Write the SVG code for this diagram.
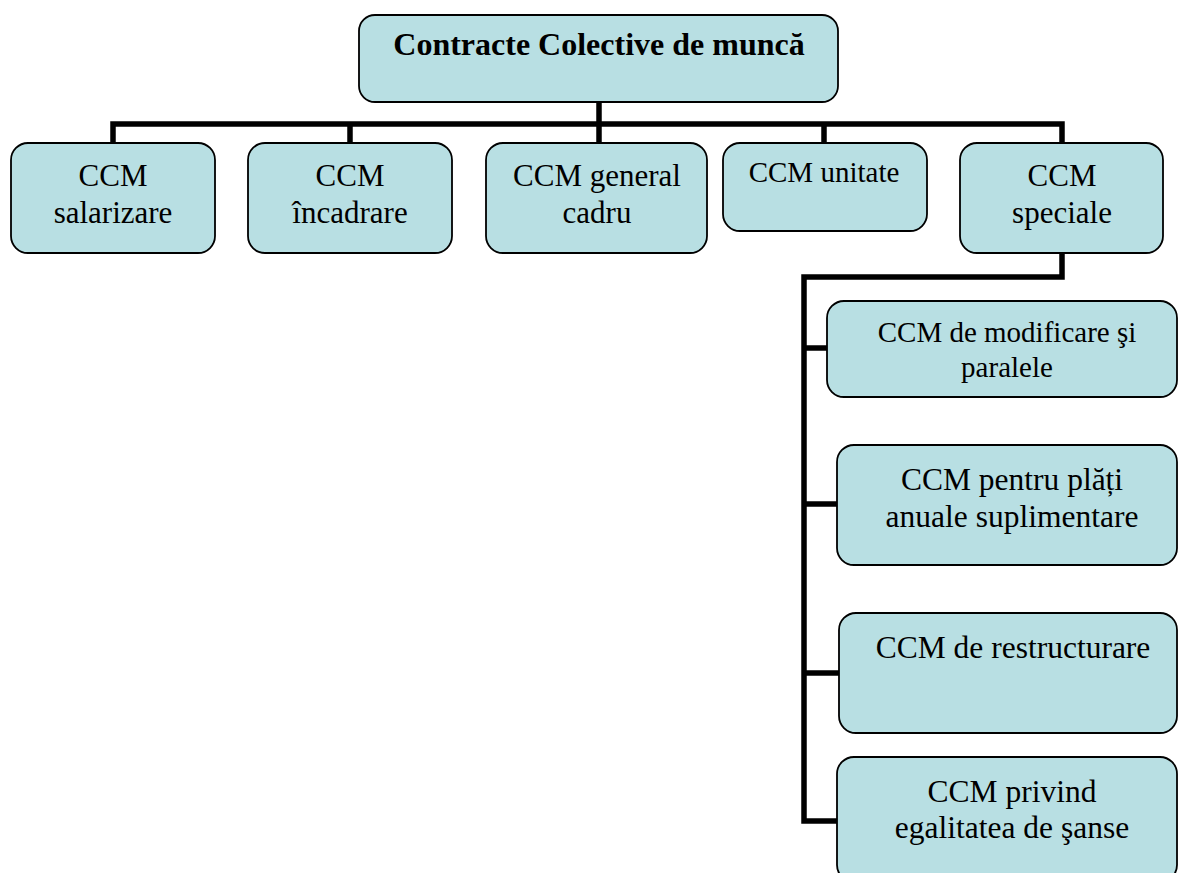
<svg xmlns="http://www.w3.org/2000/svg" width="1178" height="873" viewBox="0 0 1178 873">
<style>
.box{fill:#b8dfe3;stroke:#000;stroke-width:1.8}
.t{font-family:"Liberation Serif","Times New Roman",serif;fill:#000;text-anchor:middle}
.ln{stroke:#000;stroke-width:5.5;fill:none;stroke-linecap:square;stroke-linejoin:miter}
</style>
<rect width="1178" height="873" fill="#fff"/>
<g id="connectors">
<path class="ln" d="M599 102 V124 M113 143 V124 H1062 V143 M350 124 V143 M599 124 V143 M824 124 V143"/>
<path class="ln" d="M1062 253 V277 H804 V821 H837 M804 348 H827 M804 504 H837 M804 673 H839"/>
</g>
<g id="root">
<rect class="box" x="359" y="15" width="479" height="87" rx="16"/>
<text class="t" x="599" y="55" font-size="32" font-weight="bold">Contracte Colective de muncă</text>
</g>
<g id="salarizare">
<rect class="box" x="11" y="143" width="204" height="110" rx="17"/>
<text class="t" x="113" y="186" font-size="31">CCM</text>
<text class="t" x="113" y="223" font-size="31">salarizare</text>
</g>
<g id="incadrare">
<rect class="box" x="248" y="143" width="204" height="110" rx="17"/>
<text class="t" x="350" y="186" font-size="31">CCM</text>
<text class="t" x="350" y="223" font-size="31">încadrare</text>
</g>
<g id="general">
<rect class="box" x="486" y="143" width="221" height="110" rx="17"/>
<text class="t" x="597" y="186" font-size="31">CCM general</text>
<text class="t" x="597" y="223" font-size="31">cadru</text>
</g>
<g id="unitate">
<rect class="box" x="723" y="143" width="204" height="88" rx="17"/>
<text class="t" x="824" y="182" font-size="29">CCM unitate</text>
</g>
<g id="speciale">
<rect class="box" x="960" y="143" width="203" height="110" rx="17"/>
<text class="t" x="1062" y="186" font-size="31">CCM</text>
<text class="t" x="1062" y="223" font-size="31">speciale</text>
</g>
<g id="modificare">
<rect class="box" x="827" y="301" width="350" height="96" rx="17"/>
<text class="t" x="1007" y="342" font-size="29">CCM de modificare şi</text>
<text class="t" x="1007" y="377" font-size="29">paralele</text>
</g>
<g id="plati">
<rect class="box" x="837" y="445" width="340" height="120" rx="17"/>
<text class="t" x="1012" y="490" font-size="31.5">CCM pentru plăți</text>
<text class="t" x="1012" y="527" font-size="31.5">anuale suplimentare</text>
</g>
<g id="restructurare">
<rect class="box" x="839" y="613" width="338" height="120" rx="17"/>
<text class="t" x="1013" y="658" font-size="31.5">CCM de restructurare</text>
</g>
<g id="egalitate">
<rect class="box" x="837" y="757" width="340" height="125" rx="17"/>
<text class="t" x="1012" y="802" font-size="31.5">CCM privind</text>
<text class="t" x="1012" y="838" font-size="31.5">egalitatea de şanse</text>
</g>
</svg>
